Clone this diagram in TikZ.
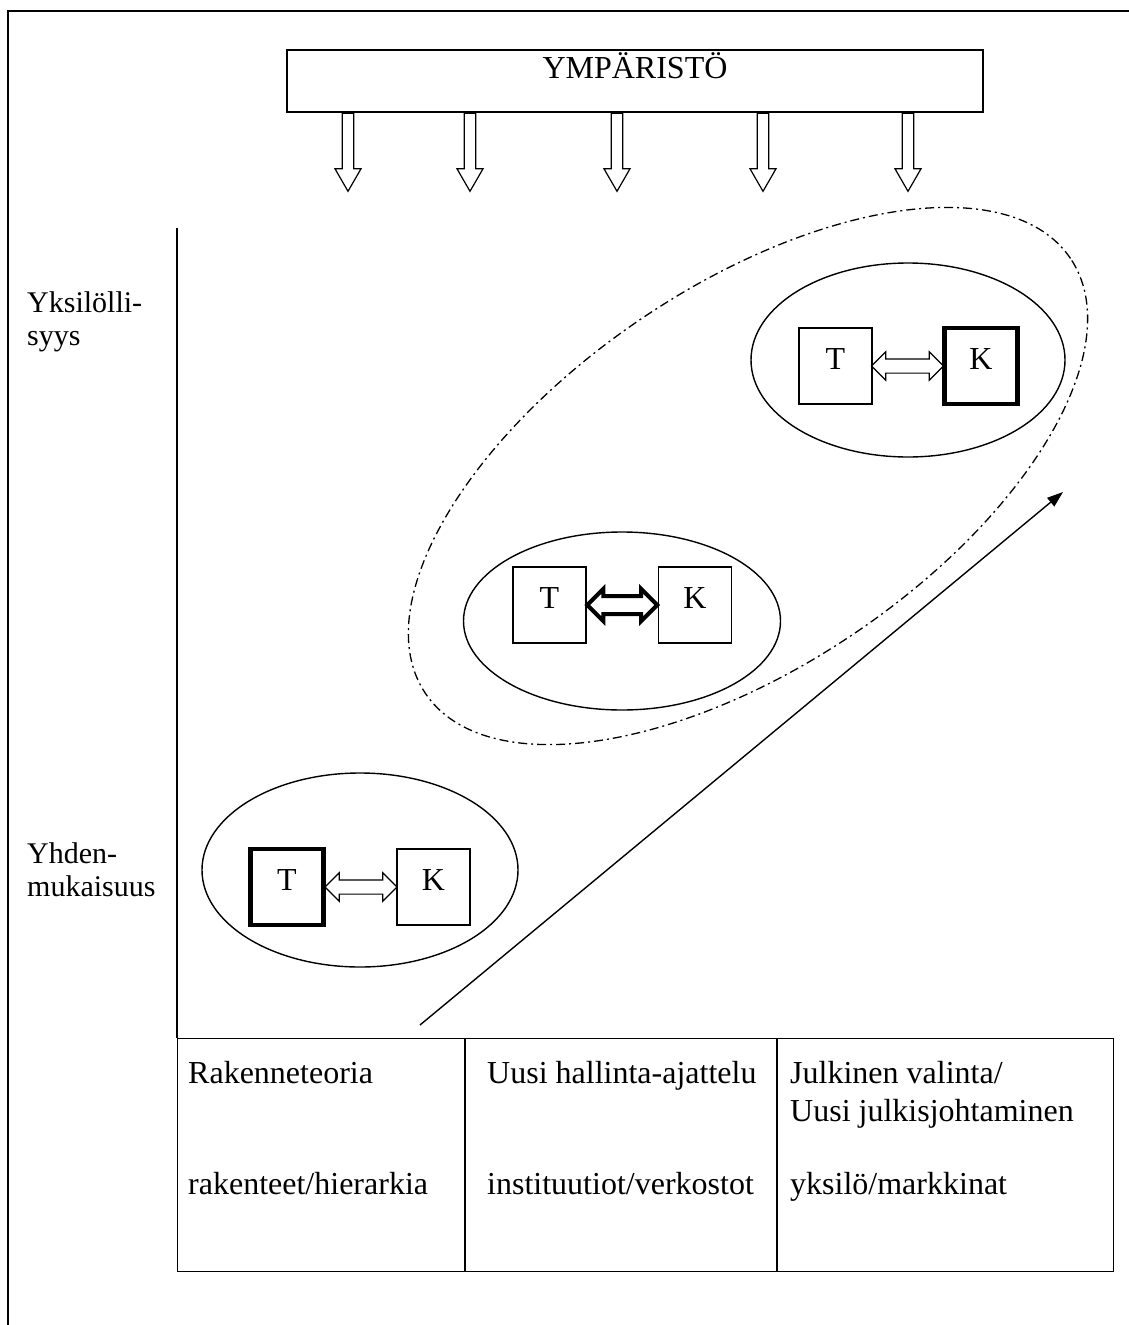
\documentclass[tikz,border=0pt]{standalone}
\usepackage{fontspec}
\setmainfont{Liberation Serif}
\usetikzlibrary{shapes.geometric,shapes.arrows,arrows.meta,calc}
\begin{document}
\begin{tikzpicture}[x=1pt,y=-1pt,
  thin line/.style={line width=1.4pt},
  txt/.style={font=\fontsize{30}{36}\selectfont, inner sep=0pt},
  celltxt/.style={font=\fontsize{32}{38}\selectfont, inner sep=0pt, anchor=base west},
  envbox/.style={draw, thin line, rectangle, minimum width=696pt, minimum height=62pt, inner sep=0pt,
     font=\fontsize{32}{38}\selectfont, text height=21pt, text depth=27pt},
  envarrow/.style={single arrow, draw, line width=1.2pt, minimum height=78pt, minimum width=26pt,
     inner sep=5pt, single arrow tip angle=60, shape border rotate=270, anchor=tail},
  tkbox/.style={draw, thin line, rectangle, minimum width=73pt, minimum height=76pt, inner sep=0pt,
     font=\fontsize{32}{38}\selectfont, text height=21pt, text depth=15pt},
  heavybox/.style={tkbox, line width=4.5pt},
  dblarrow/.style={double arrow, draw, line width=1.2pt, minimum width=26pt, inner sep=6.5pt,
     double arrow tip angle=90},
  heavyarrow/.style={dblarrow, line width=4pt, minimum width=30pt, inner sep=7pt},
  oval/.style={ellipse, draw, thin line, inner sep=0pt},
  dashdot/.style={line width=1.3pt, dash pattern=on 9pt off 4pt on 2pt off 4pt},
]
\useasboundingbox (0,0) rectangle (1129,1325);
% outer frame
\draw[line width=2pt] (8,1330) -- (8,11) -- (1135,11);

% environment
\node[envbox] (env) at (635,81) {YMPÄRISTÖ};
\foreach \dx [count=\i] in {-287,-165,-18,128,273} {
  \node[envarrow] (ea\i) at ([xshift=\dx pt]env.south) {};
}

% axis and table
\coordinate (axtop) at (177,228);
\node[draw, thin line, rectangle, minimum width=936pt, minimum height=233pt, anchor=north west, inner sep=0pt] (tbl) at (177,1038) {};
\draw[thin line] (axtop) -- (tbl.north west);
\draw[thin line] ([xshift=288pt]tbl.north west) -- ([xshift=288pt]tbl.south west);
\draw[thin line] ([xshift=600pt]tbl.north west) -- ([xshift=600pt]tbl.south west);

\node[celltxt] (c1a) at (188,1083) {Rakenneteoria};
\node[celltxt] (c2a) at (487,1083) {Uusi hallinta-ajattelu};
\node[celltxt] (c3a) at (790,1083) {Julkinen valinta/};
\node[celltxt] (c3b) at (790,1121) {Uusi julkisjohtaminen};
\node[celltxt] (c1b) at (188,1194) {rakenteet/hierarkia};
\node[celltxt] (c2b) at (487,1194) {instituutiot/verkostot};
\node[celltxt] (c3c) at (790,1194) {yksilö/markkinat};

% axis labels
\node[txt, anchor=base west] (l1) at (27,312) {Yksilölli-};
\node[txt, anchor=base west] (l2) at (27,345) {syys};
\node[txt, anchor=base west] (l3) at (27,863) {Yhden-};
\node[txt, anchor=base west] (l4) at (27,896) {mukaisuus};

% dash-dot group
\node[ellipse, draw, dashdot, rotate=34, minimum width=778pt, minimum height=380pt, inner sep=0pt] (grp) at (748,476) {};

% ellipses
\node[oval, minimum width=314pt, minimum height=194pt] (e1) at (908,360) {};
\node[oval, minimum width=317pt, minimum height=178pt] (e2) at (622,621) {};
\node[oval, minimum width=316pt, minimum height=194pt] (e3) at (360,870) {};

% top ellipse boxes
\node[tkbox] (T1) at (835.5,366) {T};
\node[heavybox] (K1) at (981,366) {K};
\node[dblarrow, minimum height=72pt] (a1) at ($(T1.east)!0.5!(K1.west)$) {};

% middle ellipse boxes
\node[tkbox] (T2) at (549.5,605) {T};
\node[tkbox] (K2) at (695,605) {K};
\node[heavyarrow, minimum height=70pt] (a2) at ($(T2.east)!0.5!(K2.west)$) {};

% bottom ellipse boxes
\node[heavybox] (T3) at (287,887) {T};
\node[tkbox] (K3) at (433.5,887) {K};
\node[dblarrow, minimum height=72pt] (a3) at ($(T3.east)!0.5!(K3.west)$) {};

% trend arrow
\coordinate (ts) at (420,1025);
\coordinate (te) at (1063,492);
\draw[thin line, -{Triangle[length=16pt,width=11pt]}] (ts) -- (te);
\end{tikzpicture}
\end{document}
